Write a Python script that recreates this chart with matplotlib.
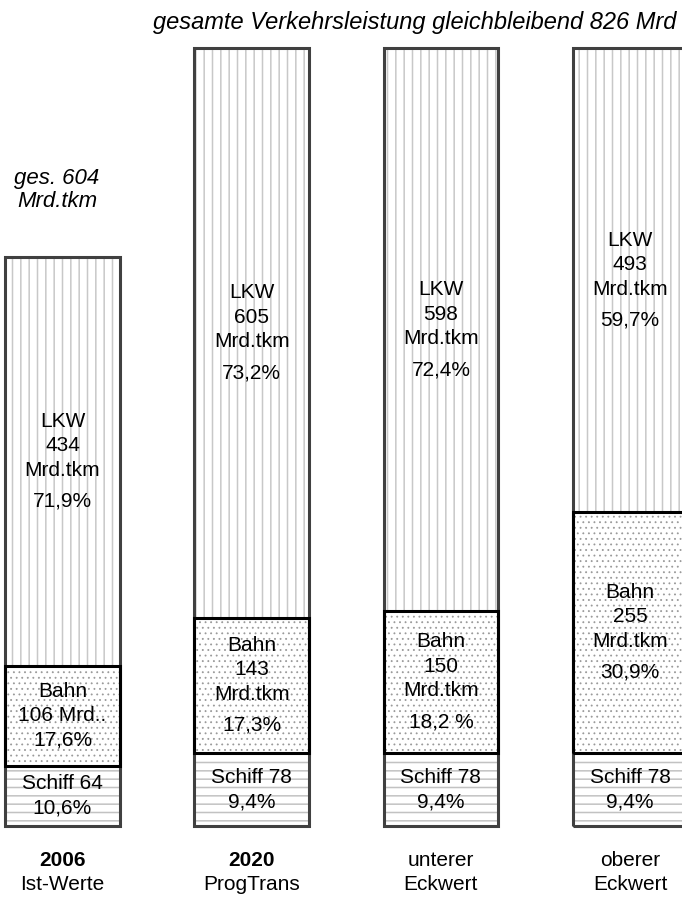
import matplotlib
matplotlib.use("Agg")
import matplotlib.pyplot as plt

plt.rcParams['font.family'] = ['Liberation Sans', 'DejaVu Sans']
plt.rcParams['hatch.linewidth'] = 1.1

# data (Mrd. tkm)
scenarios = ["2006\nIst-Werte", "2020\nProgTrans", "unterer\nEckwert", "oberer\nEckwert"]
bold_first = [True, True, False, False]
schiff = [64, 78, 78, 78]
bahn = [106, 143, 150, 255]
lkw = [434, 605, 598, 493]

schiff_labels = [["Schiff 64", "10,6%"], ["Schiff 78", "9,4%"],
                 ["Schiff 78", "9,4%"], ["Schiff 78", "9,4%"]]
bahn_labels = [["Bahn", "106 Mrd..", "17,6%"],
               ["Bahn", "143", "Mrd.tkm", "17,3%"],
               ["Bahn", "150", "Mrd.tkm", "18,2 %"],
               ["Bahn", "255", "Mrd.tkm", "30,9%"]]
lkw_labels = [["LKW", "434", "Mrd.tkm", "71,9%"],
              ["LKW", "605", "Mrd.tkm", "73,2%"],
              ["LKW", "598", "Mrd.tkm", "72,4%"],
              ["LKW", "493", "Mrd.tkm", "59,7%"]]

title_text = "gesamte Verkehrsleistung gleichbleibend 826 Mrd"
note_text = "ges. 604\nMrd.tkm"

W, H = 682, 902
fig = plt.figure(figsize=(W / 100, H / 100), dpi=100)
ax = fig.add_axes([0, 0, 1, 1])
ax.axis('off')

# pixel geometry -> data limits
px_per_bar = 189.2
px_per_unit = 0.942
x0_px, y0_px = 62.5, 826
ax.set_xlim(-x0_px / px_per_bar, (W - x0_px) / px_per_bar)
ax.set_ylim(-(H - y0_px) / px_per_unit, y0_px / px_per_unit)

xs = list(range(len(scenarios)))
width = 0.605


def hatched(vals, bottom, color, hatch, hlw):
    bars = ax.bar(xs, vals, width, bottom=bottom, color='white', edgecolor=color,
                  hatch=hatch, linewidth=0)
    for p in bars:
        if hasattr(p, 'set_hatch_linewidth'):
            p.set_hatch_linewidth(hlw)
    return bars


# hatched fills
hatched(schiff, 0, '#c2c2c2', '--', 1.1)
hatched(bahn, schiff, '#9a9a9a', '...', 0.6)
bottom_lkw = [s + b for s, b in zip(schiff, bahn)]
hatched(lkw, bottom_lkw, '#c8c8c8', '||', 1.1)

# outlines
totals = [s + b + l for s, b, l in zip(schiff, bahn, lkw)]
ax.bar(xs, totals, width, fill=False, edgecolor='#404040', linewidth=2.2)
ax.bar(xs, bahn, width, bottom=schiff, fill=False, edgecolor='black', linewidth=2.2)


def put_lines(x, ycenter, lines, fs=15):
    # line spacing in px, bigger gap before the percent line
    gaps = []
    for i in range(1, len(lines)):
        if i == len(lines) - 1 and len(lines) >= 4:
            gaps.append(31)
        else:
            gaps.append(24.5)
    offs = [0]
    for g in gaps:
        offs.append(offs[-1] + g)
    mid = offs[-1] / 2
    for line, o in zip(lines, offs):
        ax.annotate(line, (x, ycenter), xytext=(0, -(o - mid) * 0.72),
                    textcoords='offset points', ha='center', va='center',
                    fontsize=fs, color='black')


for i, x in enumerate(xs):
    put_lines(x, schiff[i] / 2, schiff_labels[i])
    put_lines(x, schiff[i] + bahn[i] / 2, bahn_labels[i])
    put_lines(x, bottom_lkw[i] + lkw[i] / 2, lkw_labels[i])

# category labels under the bars
for i, x in enumerate(xs):
    top, bot = scenarios[i].split("\n")
    ax.annotate(top, (x, 0), xytext=(0, -(861 - y0_px) * 0.72), textcoords='offset points',
                ha='center', va='center', fontsize=15,
                fontweight='bold' if bold_first[i] else 'normal')
    ax.annotate(bot, (x, 0), xytext=(0, -(885 - y0_px) * 0.72), textcoords='offset points',
                ha='center', va='center', fontsize=15)

fig.text(57 / W, 1 - 190 / H, note_text, ha='center', va='center',
         fontsize=16, style='italic', linespacing=1.1)

fig.text(153 / W, 1 - 22 / H, title_text, ha='left', va='center',
         fontsize=17, style='italic')

fig.savefig("out.png", dpi=100)
